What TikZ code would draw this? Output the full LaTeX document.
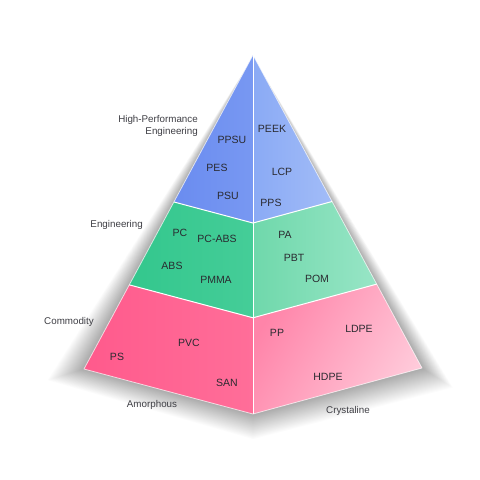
\documentclass[tikz,border=0pt]{standalone}
\usepackage{fontspec}
\setmainfont{Liberation Sans}
\usetikzlibrary{calc}
\definecolor{txt}{HTML}{2A2A30}
\definecolor{blueL}{HTML}{6A8CF0}
\definecolor{blueLm}{HTML}{7898F2}
\definecolor{blueR}{HTML}{8AAAF5}
\definecolor{blueRm}{HTML}{A2BCF7}
\definecolor{greenL}{HTML}{33C78D}
\definecolor{greenLm}{HTML}{45CD98}
\definecolor{greenR}{HTML}{6FD8AB}
\definecolor{greenRm}{HTML}{98E5C6}
\definecolor{pinkL}{HTML}{FF5A8C}
\definecolor{pinkLm}{HTML}{FF6E99}
\definecolor{pinkR}{HTML}{FF84A9}
\definecolor{pinkRm}{HTML}{FFCADA}
\tikzset{
  lbl/.style={font=\fontsize{10.5}{12}\selectfont, text=txt, inner sep=0pt},
  tier/.style={font=\fontsize{9.8}{11.5}\selectfont, text=txt!90, inner sep=0pt, align=right},
  edge/.style={white, line width=1pt},
  rim/.style={white, opacity=0.7, line width=0.8pt, line join=round},
}
\begin{document}
\begin{tikzpicture}[x=1pt,y=-1pt]
\useasboundingbox (0,0) rectangle (480,480);
\fill[white] (0,0) rectangle (480,480);
% corner points
\coordinate (A) at (253,55);
\coordinate (L) at (84,369);
\coordinate (F) at (253,414);
\coordinate (R) at (422,368);
\coordinate (L1) at ($(A)!0.468!(L)$);
\coordinate (L2) at ($(A)!0.732!(L)$);
\coordinate (M1) at ($(A)!0.468!(F)$);
\coordinate (M2) at ($(A)!0.732!(F)$);
\coordinate (R1) at ($(A)!0.468!(R)$);
\coordinate (R2) at ($(A)!0.732!(R)$);
% soft shadow
\foreach \d in {1,...,28}{
  \fill[black, opacity=0.011]
    ($(A)+(0,2)$) -- ($(L)+(-1.3*\d,0.4*\d)$) -- ($(F)+(0,0.9*\d)$) -- ($(R)+(1.1*\d,0.7*\d)$) -- cycle;
}
% left faces
\shade[left color=blueL, right color=blueLm] (A) -- (L1) -- (M1) -- cycle;
\shade[left color=greenL, right color=greenLm] (L1) -- (L2) -- (M2) -- (M1) -- cycle;
\shade[left color=pinkL, right color=pinkLm] (L2) -- (L) -- (F) -- (M2) -- cycle;
% right faces
\shade[left color=blueR, right color=blueRm] (A) -- (M1) -- (R1) -- cycle;
\shade[left color=greenR, right color=greenRm] (M1) -- (M2) -- (R2) -- (R1) -- cycle;
\shade[left color=pinkR, right color=pinkRm, shading angle=60] (M2) -- (F) -- (R) -- (R2) -- cycle;
% white dividing lines
\draw[edge] (A) -- (F);
\draw[edge] (L1) -- (M1) -- (R1);
\draw[edge] (L2) -- (M2) -- (R2);
\draw[rim] (A) -- (L) -- (F) -- (R) -- cycle;
% tier labels
\node[tier, anchor=east] (hpe) at (198,126) {High-Performance\\Engineering};
\node[tier, anchor=east] (eng) at (143,225) {Engineering};
\node[tier, anchor=east] (com) at (94,322) {Commodity};
\node[tier] (amo) at (152,405) {Amorphous};
\node[tier] (cry) at (348,411) {Crystaline};
% polymer labels
\node[lbl] (peek) at (272,129) {PEEK};
\node[lbl] (ppsu) at (232,140) {PPSU};
\node[lbl] (pes) at (217,168) {PES};
\node[lbl] (lcp) at (282,172) {LCP};
\node[lbl] (psu) at (228,196) {PSU};
\node[lbl] (pps) at (271,203) {PPS};
\node[lbl] (pc) at (180,233) {PC};
\node[lbl] (pcabs) at (217,239) {PC-ABS};
\node[lbl] (abs) at (172,266) {ABS};
\node[lbl] (pmma) at (216,280) {PMMA};
\node[lbl] (pa) at (285,235) {PA};
\node[lbl] (pbt) at (294,258) {PBT};
\node[lbl] (pom) at (317,279) {POM};
\node[lbl] (pvc) at (189,343) {PVC};
\node[lbl] (ps) at (117,357) {PS};
\node[lbl] (san) at (227,383) {SAN};
\node[lbl] (pp) at (277,333) {PP};
\node[lbl] (ldpe) at (359,329) {LDPE};
\node[lbl] (hdpe) at (328,377) {HDPE};
\end{tikzpicture}
\end{document}
